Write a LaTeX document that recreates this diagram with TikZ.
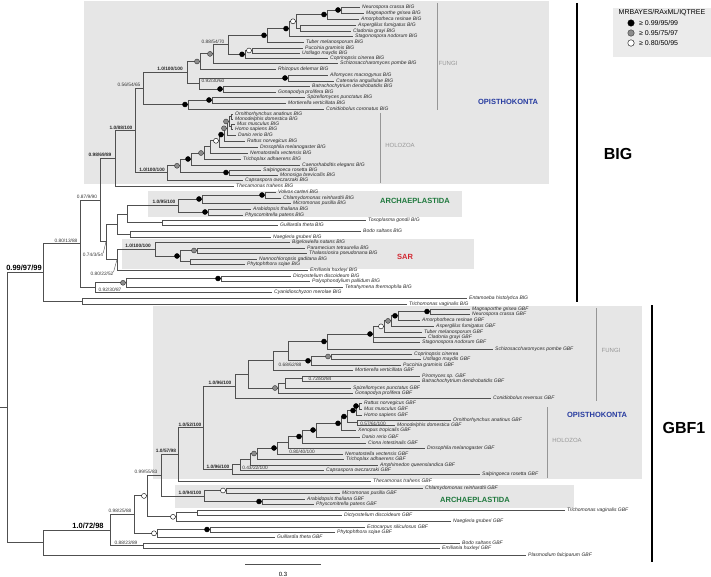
\documentclass[tikz,border=0pt]{standalone}
\usepackage{fontspec}
\setmainfont{Liberation Sans}
\usetikzlibrary{positioning}
\definecolor{opiblue}{RGB}{40,60,160}
\definecolor{archgreen}{RGB}{30,120,60}
\definecolor{sarred}{RGB}{210,40,50}
\definecolor{boxgrey}{RGB}{230,230,230}
\definecolor{treegrey}{RGB}{80,80,80}
\definecolor{cladegrey}{RGB}{150,150,150}

\begin{document}
\begin{tikzpicture}[x=1pt,y=-1pt]
  \tikzstyle{br}=[draw=treegrey,line width=0.9pt]
  \tikzstyle{leaf}=[anchor=west,inner xsep=2pt,inner ysep=0pt,font=\fontsize{5}{6}\selectfont\itshape,text=black!85]
  \tikzstyle{sup}=[inner sep=0pt,font=\fontsize{4.8}{5}\selectfont,text=black!80]
  \tikzstyle{supb}=[inner sep=0pt,font=\fontsize{4.8}{5}\selectfont\bfseries,text=black!85]
  \tikzstyle{supbig}=[inner sep=0pt,font=\fontsize{7.5}{8}\selectfont\bfseries]
  \tikzstyle{bb}=[circle,draw=black,fill=black,inner sep=0pt,minimum size=5pt]
  \tikzstyle{gb}=[circle,draw=black!80,fill=black!45,inner sep=0pt,minimum size=5pt]
  \tikzstyle{wb}=[circle,draw=black,fill=white,inner sep=0pt,minimum size=5pt]
  \tikzstyle{clade}=[inner sep=0pt,font=\fontsize{7.5}{8}\selectfont\bfseries]
  \tikzstyle{sub}=[inner sep=0pt,font=\fontsize{6}{7}\selectfont,text=cladegrey]
  \tikzstyle{bracket}=[draw=cladegrey,line width=0.8pt]
  \tikzstyle{gene}=[inner sep=0pt,font=\fontsize{16}{18}\selectfont\bfseries]

  \useasboundingbox (0,0) rectangle (711,577);

  % -- Clade boxes --
  \fill[boxgrey] (84,1) rectangle (549,184);
  \fill[boxgrey] (148,191) rectangle (462,217);
  \fill[boxgrey] (122,239) rectangle (474,269);
  \fill[boxgrey] (153,306) rectangle (642,479);
  \fill[boxgrey] (175,485) rectangle (574,508);
  \fill[black!8] (613,8) rectangle (711,57);

  % -- BIG leaves --
  \node[leaf] (nc1) at (360,7) {Neurospora crassa BIG};
  \node[leaf] (mg1) at (364,13) {Magnaporthe grisea BIG};
  \node[leaf] (ar1) at (359,19) {Amorphotheca resinae BIG};
  \node[leaf] (af1) at (356,25) {Aspergillus fumigatus BIG};
  \node[leaf] (cg1) at (351,31) {Cladonia grayi BIG};
  \node[leaf] (sn1) at (353,36) {Stagonospora nodorum BIG};
  \node[leaf] (tm1) at (304,42) {Tuber melanosporum BIG};
  \node[leaf] (pg1) at (303,48) {Puccinia graminis BIG};
  \node[leaf] (um1) at (300,53) {Ustilago maydis BIG};
  \node[leaf] (cc1) at (328,58) {Coprinopsis cinerea BIG};
  \node[leaf] (sp1) at (338,63) {Schizosaccharomyces pombe BIG};
  \node[leaf] (rd1) at (276,69) {Rhizopus delemar BIG};
  \node[leaf] (am1) at (328,75) {Allomyces macrogynus BIG};
  \node[leaf] (ca1) at (334,81) {Catenaria anguillulae BIG};
  \node[leaf] (bd1) at (310,86) {Batrachochytrium dendrobatidis BIG};
  \node[leaf] (gp1) at (276,92) {Gonapodya prolifera BIG};
  \node[leaf] (spu1) at (305,97) {Spizellomyces punctatus BIG};
  \node[leaf] (mv1) at (286,103) {Mortierella verticillata BIG};
  \node[leaf] (co1) at (324,109) {Conidiobolus coronatus BIG};
  \node[leaf] (oa1) at (233,114) {Ornithorhynchus anatinus BIG};
  \node[leaf] (md1) at (233,119) {Monodelphis domestica BIG};
  \node[leaf] (mm1) at (235,124) {Mus musculus BIG};
  \node[leaf] (hs1) at (233,129) {Homo sapiens BIG};
  \node[leaf] (dr1) at (236,135) {Danio rerio BIG};
  \node[leaf] (rn1) at (245,141) {Rattus norvegicus BIG};
  \node[leaf] (dm1) at (258,147) {Drosophila melanogaster BIG};
  \node[leaf] (nv1) at (248,153) {Nematostella vectensis BIG};
  \node[leaf] (ta1) at (241,159) {Trichoplax adhaerens BIG};
  \node[leaf] (ce1) at (300,165) {Caenorhabditis elegans BIG};
  \node[leaf] (sr1) at (261,170) {Salpingoeca rosetta BIG};
  \node[leaf] (mb1) at (278,175) {Monosiga brevicollis BIG};
  \node[leaf] (cow1) at (243,180) {Capsaspora owczarzaki BIG};
  \node[leaf] (tt1) at (234,186) {Thecamonas trahens BIG};
  \node[leaf] (vc1) at (276,192) {Volvox carteri BIG};
  \node[leaf] (cr1) at (281,198) {Chlamydomonas reinhardtii BIG};
  \node[leaf] (mp1) at (291,203) {Micromonas pusilla BIG};
  \node[leaf] (at1) at (251,209) {Arabidopsis thaliana BIG};
  \node[leaf] (pp1) at (243,215) {Physcomitrella patens BIG};
  \node[leaf] (tg1) at (366,220) {Toxoplasma gondii BIG};
  \node[leaf] (gt1) at (278,225) {Guillardia theta BIG};
  \node[leaf] (bs1) at (361,231) {Bodo saltans BIG};
  \node[leaf] (ng1) at (271,237) {Naegleria gruberi BIG};
  \node[leaf] (bn1) at (290,242) {Bigelowiella natans BIG};
  \node[leaf] (pt1) at (305,248) {Paramecium tetraurelia BIG};
  \node[leaf] (tp1) at (307,253) {Thalassiosira pseudonana BIG};
  \node[leaf] (ngd1) at (257,259) {Nannochloropsis gaditana BIG};
  \node[leaf] (ps1) at (245,264) {Phytophthora sojae BIG};
  \node[leaf] (eh1) at (308,270) {Emiliania huxleyi BIG};
  \node[leaf] (dd1) at (291,276) {Dictyostelium discoideum BIG};
  \node[leaf] (ppa1) at (310,281) {Polysphondylium pallidum BIG};
  \node[leaf] (tth1) at (343,287) {Tetrahymena thermophila BIG};
  \node[leaf] (cm1) at (272,292) {Cyanidioschyzon merolae BIG};
  \node[leaf] (ehi1) at (467,298) {Entamoeba histolytica BIG};
  \node[leaf] (tv1) at (407,304) {Trichomonas vaginalis BIG};

  % -- GBF1 leaves --
  \node[leaf] (mgg) at (470,309) {Magnaporthe grisea GBF};
  \node[leaf] (ncg) at (470,314) {Neurospora crassa GBF};
  \node[leaf] (arg) at (420,320) {Amorphotheca resinae GBF};
  \node[leaf] (afg) at (434,326) {Aspergillus fumigatus GBF};
  \node[leaf] (tmg) at (422,332) {Tuber melanosporum GBF};
  \node[leaf] (cgg) at (426,337) {Cladonia grayi GBF};
  \node[leaf] (sng) at (420,342) {Stagonospora nodorum GBF};
  \node[leaf] (spg) at (493,349) {Schizosaccharomyces pombe GBF};
  \node[leaf] (ccg) at (412,354) {Coprinopsis cinerea};
  \node[leaf] (umg) at (421,359) {Ustilago maydis GBF};
  \node[leaf] (pgg) at (401,365) {Puccinia graminis GBF};
  \node[leaf] (mvg) at (353,370) {Mortierella verticillata GBF};
  \node[leaf] (psg) at (420,376) {Piromyces sp. GBF};
  \node[leaf] (bdg) at (420,381) {Batrachochytrium dendrobatidis GBF};
  \node[leaf] (spug) at (351,388) {Spizellomyces punctatus GBF};
  \node[leaf] (gpg) at (353,393) {Gonapodya prolifera GBF};
  \node[leaf] (crg) at (491,398) {Conidiobolus reversus GBF};
  \node[leaf] (rng) at (362,403) {Rattus norvegicus GBF};
  \node[leaf] (mmg) at (362,409) {Mus musculus GBF};
  \node[leaf] (hsg) at (362,415) {Homo sapiens GBF};
  \node[leaf] (oag) at (451,420) {Ornithorhynchus anatinus GBF};
  \node[leaf] (mdg) at (395,425) {Monodelphis domestica GBF};
  \node[leaf] (xtg) at (356,430) {Xenopus tropicalis GBF};
  \node[leaf] (drg) at (360,437) {Danio rerio GBF};
  \node[leaf] (cig) at (366,443) {Ciona intestinalis GBF};
  \node[leaf] (dmg) at (425,448) {Drosophila melanogaster GBF};
  \node[leaf] (nvg) at (343,454) {Nematostella vectensis GBF};
  \node[leaf] (tag) at (344,459) {Trichoplax adhaerens GBF};
  \node[leaf] (aqg) at (378,465) {Amphimedon queenslandica GBF};
  \node[leaf] (cowg) at (324,470) {Capsaspora owczarzaki GBF};
  \node[leaf] (srg) at (480,474) {Salpingoeca rosetta GBF};
  \node[leaf] (ttg) at (371,481) {Thecamonas trahens GBF};
  \node[leaf] (crhg) at (423,488) {Chlamydomonas reinhardtii GBF};
  \node[leaf] (mpg) at (340,493) {Micromonas pusilla GBF};
  \node[leaf] (atg) at (305,499) {Arabidopsis thaliana GBF};
  \node[leaf] (ppg) at (314,504) {Physcomitrella patens GBF};
  \node[leaf] (tvg) at (565,510) {Trichomonas vaginalis GBF};
  \node[leaf] (ddg) at (342,515) {Dictyostelium discoideum GBF};
  \node[leaf] (ngg) at (451,521) {Naegleria gruberi GBF};
  \node[leaf] (esg) at (365,527) {Ectocarpus siliculosus GBF};
  \node[leaf] (psjg) at (335,532) {Phytophthora sojae GBF};
  \node[leaf] (gtg) at (275,537) {Guillardia theta GBF};
  \node[leaf] (bsg) at (460,543) {Bodo saltans GBF};
  \node[leaf] (ehg) at (440,548) {Emiliania huxleyi GBF};
  \node[leaf] (pfg) at (526,555) {Plasmodium falciparum GBF};

  % -- BIG internal nodes --
  \coordinate (b1) at (341,10);
  \coordinate (b2) at (327,14.5);
  \coordinate (b3) at (300,28);
  \coordinate (b4) at (296,21.3);
  \coordinate (b5) at (289,28.6);
  \coordinate (b6) at (267,35.3);
  \coordinate (b7) at (252,50.5);
  \coordinate (b8) at (245,54.3);
  \coordinate (b9) at (228,44.8);
  \coordinate (b10) at (213,53.9);
  \coordinate (b11) at (200,61.5);
  \coordinate (b12) at (288,78);
  \coordinate (b13) at (223,89);
  \coordinate (b14) at (199,83.5);
  \coordinate (b15) at (187,72.5);
  \coordinate (b16) at (212,100);
  \coordinate (b17) at (188,104.5);
  \coordinate (FB) at (143,88.5);
  \coordinate (v1) at (231,116.5);
  \coordinate (v2) at (231,126.5);
  \coordinate (v3) at (229,121.5);
  \coordinate (v4) at (227,128.3);
  \coordinate (v5) at (224,134.6);
  \coordinate (v6) at (219,140.8);
  \coordinate (v7) at (210,146.9);
  \coordinate (v8) at (204,153);
  \coordinate (v9) at (191,159);
  \coordinate (v10) at (229,172.5);
  \coordinate (v11) at (180,165.8);
  \coordinate (HB) at (167,172.9);
  \coordinate (OB) at (135,130.7);
  \coordinate (A) at (115,158.3);
  \coordinate (a1) at (265,195);
  \coordinate (a2) at (202,199);
  \coordinate (a3) at (208,212);
  \coordinate (AB) at (178,205.5);
  \coordinate (t1) at (162,222.5);
  \coordinate (ne1) at (127,214);
  \coordinate (ne2) at (130,234);
  \coordinate (ne) at (117,224);
  \coordinate (s1) at (197,250.5);
  \coordinate (s2) at (190,261.5);
  \coordinate (s3) at (180,256);
  \coordinate (SB) at (155,249);
  \coordinate (nf) at (117,259.5);
  \coordinate (nd) at (106,241.8);
  \coordinate (nb) at (100,200);
  \coordinate (dp) at (221,278.5);
  \coordinate (dpt) at (126,282.8);
  \coordinate (nc) at (95,287.4);
  \coordinate (na) at (80,243.7);
  \coordinate (et) at (82,301);
  \coordinate (BR) at (43,272.3);
  \coordinate (root) at (7,407);
  \coordinate (stub) at (0,407);

  % -- GBF1 internal nodes --
  \coordinate (f1) at (430,311.5);
  \coordinate (f2) at (398,315.8);
  \coordinate (f3) at (391,320.9);
  \coordinate (f4) at (384,326.4);
  \coordinate (f5) at (373,334);
  \coordinate (f6) at (327,341.5);
  \coordinate (f7) at (331,356.5);
  \coordinate (f8) at (311,360.8);
  \coordinate (f9) at (288,351);
  \coordinate (f10) at (273,360.5);
  \coordinate (f11) at (302,378.5);
  \coordinate (f12) at (285,383.3);
  \coordinate (f13) at (278,388);
  \coordinate (f14) at (248,374.3);
  \coordinate (fG) at (235,386);
  \coordinate (m1) at (359,406);
  \coordinate (m2) at (356,410.5);
  \coordinate (m3) at (357,422.5);
  \coordinate (m4) at (347,416.5);
  \coordinate (m5) at (341,423.3);
  \coordinate (m6) at (316,430);
  \coordinate (m7) at (302,436.5);
  \coordinate (m8) at (288,442.3);
  \coordinate (m9) at (277,448);
  \coordinate (m10) at (257,453.5);
  \coordinate (m11) at (250,459);
  \coordinate (m12) at (240,464.5);
  \coordinate (hG) at (232,469);
  \coordinate (aw) at (226,490.5);
  \coordinate (ab) at (262,501.5);
  \coordinate (ArchG) at (204,496);
  \coordinate (g9) at (203,427.5);
  \coordinate (g8) at (178,454);
  \coordinate (g6) at (161,475);
  \coordinate (g7a) at (197,512.5);
  \coordinate (g7) at (176,516.8);
  \coordinate (g4) at (147,495.9);
  \coordinate (g5a) at (210,529.5);
  \coordinate (g5) at (157,533.3);
  \coordinate (g2) at (134,514.6);
  \coordinate (g3) at (143,545.5);
  \coordinate (g1) at (110,530);
  \coordinate (g0) at (43,542.5);

  % -- BIG branches --
  \draw[br] (b1) |- (nc1.west) (b1) |- (mg1.west);
  \draw[br] (b2) |- (b1) (b2) |- (ar1.west);
  \draw[br] (b3) |- (af1.west) (b3) |- (cg1.west);
  \draw[br] (b4) |- (b2) (b4) |- (b3);
  \draw[br] (b5) |- (b4) (b5) |- (sn1.west);
  \draw[br] (b6) |- (b5) (b6) |- (tm1.west);
  \draw[br] (b7) |- (pg1.west) (b7) |- (um1.west);
  \draw[br] (b8) |- (b7) (b8) |- (cc1.west);
  \draw[br] (b9) |- (b6) (b9) |- (b8);
  \draw[br] (b10) |- (b9) (b10) |- (sp1.west);
  \draw[br] (b11) |- (b10) (b11) |- (rd1.west);
  \draw[br] (b12) |- (am1.west) (b12) |- (ca1.west);
  \draw[br] (b13) |- (bd1.west) (b13) |- (gp1.west);
  \draw[br] (b14) |- (b12) (b14) |- (b13);
  \draw[br] (b15) |- (b11) (b15) |- (b14);
  \draw[br] (b16) |- (spu1.west) (b16) |- (mv1.west);
  \draw[br] (b17) |- (b16) (b17) |- (co1.west);
  \draw[br] (FB) |- (b15) (FB) |- (b17);
  \draw[br] (v1) |- (oa1.west) (v1) |- (md1.west);
  \draw[br] (v2) |- (mm1.west) (v2) |- (hs1.west);
  \draw[br] (v3) |- (v1) (v3) |- (v2);
  \draw[br] (v4) |- (v3) (v4) |- (dr1.west);
  \draw[br] (v5) |- (v4) (v5) |- (rn1.west);
  \draw[br] (v6) |- (v5) (v6) |- (dm1.west);
  \draw[br] (v7) |- (v6) (v7) |- (nv1.west);
  \draw[br] (v8) |- (v7) (v8) |- (ta1.west);
  \draw[br] (v9) |- (v8) (v9) |- (ce1.west);
  \draw[br] (v10) |- (sr1.west) (v10) |- (mb1.west);
  \draw[br] (v11) |- (v9) (v11) |- (v10);
  \draw[br] (HB) |- (v11) (HB) |- (cow1.west);
  \draw[br] (OB) |- (FB) (OB) |- (HB);
  \draw[br] (A) |- (OB) (A) |- (tt1.west);
  \draw[br] (a1) |- (vc1.west) (a1) |- (cr1.west);
  \draw[br] (a2) |- (a1) (a2) |- (mp1.west);
  \draw[br] (a3) |- (at1.west) (a3) |- (pp1.west);
  \draw[br] (AB) |- (a2) (AB) |- (a3);
  \draw[br] (t1) |- (tg1.west) (t1) |- (gt1.west);
  \draw[br] (ne1) |- (AB) (ne1) |- (t1);
  \draw[br] (ne2) |- (bs1.west) (ne2) |- (ng1.west);
  \draw[br] (ne) |- (ne1) (ne) |- (ne2);
  \draw[br] (s1) |- (pt1.west) (s1) |- (tp1.west);
  \draw[br] (s2) |- (ngd1.west) (s2) |- (ps1.west);
  \draw[br] (s3) |- (s1) (s3) |- (s2);
  \draw[br] (SB) |- (bn1.west) (SB) |- (s3);
  \draw[br] (nf) |- (SB) (nf) |- (eh1.west);
  \draw[br] (nd) |- (ne) (nd) |- (nf);
  \draw[br] (nb) |- (A) (nb) |- (nd);
  \draw[br] (dp) |- (dd1.west) (dp) |- (ppa1.west);
  \draw[br] (dpt) |- (dp) (dpt) |- (tth1.west);
  \draw[br] (nc) |- (dpt) (nc) |- (cm1.west);
  \draw[br] (na) |- (nb) (na) |- (nc);
  \draw[br] (et) |- (ehi1.west) (et) |- (tv1.west);
  \draw[br] (BR) |- (na) (BR) |- (et);
  \draw[br] (root) |- (BR) (root) |- (g0);
  \draw[br] (stub) -- (root);

  % -- GBF1 branches --
  \draw[br] (f1) |- (mgg.west) (f1) |- (ncg.west);
  \draw[br] (f2) |- (f1) (f2) |- (arg.west);
  \draw[br] (f3) |- (f2) (f3) |- (afg.west);
  \draw[br] (f4) |- (f3) (f4) |- (tmg.west);
  \draw[br] (f5) |- (f4) (f5) |- (cgg.west) (f5) |- (sng.west);
  \draw[br] (f6) |- (f5) (f6) |- (spg.west);
  \draw[br] (f7) |- (ccg.west) (f7) |- (umg.west);
  \draw[br] (f8) |- (f7) (f8) |- (pgg.west);
  \draw[br] (f9) |- (f6) (f9) |- (f8);
  \draw[br] (f10) |- (f9) (f10) |- (mvg.west);
  \draw[br] (f11) |- (psg.west) (f11) |- (bdg.west);
  \draw[br] (f12) |- (f11) (f12) |- (spug.west);
  \draw[br] (f13) |- (f12) (f13) |- (gpg.west);
  \draw[br] (f14) |- (f10) (f14) |- (f13);
  \draw[br] (fG) |- (f14) (fG) |- (crg.west);
  \draw[br] (m1) |- (rng.west) (m1) |- (mmg.west);
  \draw[br] (m2) |- (m1) (m2) |- (hsg.west);
  \draw[br] (m3) |- (oag.west) (m3) |- (mdg.west);
  \draw[br] (m4) |- (m2) (m4) |- (m3);
  \draw[br] (m5) |- (m4) (m5) |- (xtg.west);
  \draw[br] (m6) |- (m5) (m6) |- (drg.west);
  \draw[br] (m7) |- (m6) (m7) |- (cig.west);
  \draw[br] (m8) |- (m7) (m8) |- (dmg.west);
  \draw[br] (m9) |- (m8) (m9) |- (nvg.west);
  \draw[br] (m10) |- (m9) (m10) |- (tag.west);
  \draw[br] (m11) |- (m10) (m11) |- (aqg.west);
  \draw[br] (m12) |- (m11) (m12) |- (cowg.west);
  \draw[br] (hG) |- (m12) (hG) |- (srg.west);
  \draw[br] (aw) |- (crhg.west) (aw) |- (mpg.west);
  \draw[br] (ab) |- (atg.west) (ab) |- (ppg.west);
  \draw[br] (ArchG) |- (aw) (ArchG) |- (ab);
  \draw[br] (g9) |- (fG) (g9) |- (hG);
  \draw[br] (g8) |- (g9) (g8) |- (ttg.west);
  \draw[br] (g6) |- (g8) (g6) |- (ArchG);
  \draw[br] (g7a) |- (tvg.west) (g7a) |- (ddg.west);
  \draw[br] (g7) |- (g7a) (g7) |- (ngg.west);
  \draw[br] (g4) |- (g6) (g4) |- (g7);
  \draw[br] (g5a) |- (esg.west) (g5a) |- (psjg.west);
  \draw[br] (g5) |- (g5a) (g5) |- (gtg.west);
  \draw[br] (g2) |- (g4) (g2) |- (g5);
  \draw[br] (g3) |- (bsg.west) (g3) |- (ehg.west);
  \draw[br] (g1) |- (g2) (g1) |- (g3);
  \draw[br] (g0) |- (g1) (g0) |- (pfg.west);

  % -- Support circles --
  \foreach \n in {b1,b2,b5,b6,b8,b12,b13,b16,b17,v5,v9,v10,a1,a2,a3,s3,dp,
                  f1,f2,f5,f6,f8,m1,m2,m4,m5,m6,m7,m9,ab,g5a}
    \node[bb] (c-\n) at ([xshift=-3pt]\n) {};
  \foreach \n in {b10,b11,v3,v4,v8,v11,s1,dpt,f3,f7,f13,m10}
    \node[gb] (c-\n) at ([xshift=-3pt]\n) {};
  \foreach \n in {b4,b7,v6,f4,aw,g4,g5,g7}
    \node[wb] (c-\n) at ([xshift=-3pt]\n) {};

  % -- Support values --
  \node[sup] (l-b9) at (213,42) {0.88/54/70};
  \node[supb] (l-b15) at (170,69) {1.0/100/100};
  \node[sup] (l-b14) at (213,81) {0.92/30/60};
  \node[sup] (l-FB) at (129,85) {0.56/54/65};
  \node[supb] (l-OB) at (121,128) {1.0/88/100};
  \node[supb] (l-A) at (100,155) {0.98/69/89};
  \node[supb] (l-HB) at (152,170) {1.0/100/100};
  \node[supb] (l-AB) at (164,202) {1.0/95/100};
  \node[sup] (l-nb) at (87,197) {0.87/9/90};
  \node[sup] (l-na) at (66,241) {0.80/13/88};
  \node[sup] (l-nd) at (93,255) {0.74/3/54};
  \node[supb] (l-SB) at (138,246) {1.0/100/100};
  \node[sup] (l-nf) at (102,274) {0.80/22/52};
  \node[sup] (l-nc) at (110,290) {0.92/30/87};
  \node[supbig] (l-BR) at (24,268) {0.99/97/99};
  \draw[treegrey,line width=0.4pt] (l-nd.north east) -- (nd);
  \draw[treegrey,line width=0.4pt] (l-nf.north east) -- (nf);
  \node[supbig] (l-g1) at (88,526) {1.0/72/98};
  \node[sup] (l-g2) at (120,511) {0.98/25/88};
  \node[sup] (l-g3) at (126,543) {0.88/23/89};
  \node[sup] (l-g6) at (146,472) {0.99/55/83};
  \node[supb] (l-g8) at (166,451) {1.0/57/98};
  \node[supb] (l-g9) at (190,425) {1.0/52/100};
  \node[supb] (l-fG) at (220,383) {1.0/96/100};
  \node[supb] (l-hG) at (218,467) {1.0/96/100};
  \node[supb] (l-ArchG) at (190,493) {1.0/94/100};
  \node[sup] (l-f10) at (290,365) {0.68/62/88};
  \node[sup] (l-f12) at (320,379) {0.72/83/84};
  \node[sup] (l-m3) at (373,424) {0.57/61/100};
  \node[sup] (l-m8) at (302,452) {0.80/40/100};
  \node[sup] (l-m12) at (255,468) {0.43/22/100};

  % -- Clade labels --
  \draw[bracket] (437,3) -- (437,110);
  \draw[bracket] (380,113) -- (380,183);
  \draw[bracket] (596,308) -- (596,401);
  \draw[bracket] (547,407) -- (547,478);
  \node[sub] (fungi1) at (448,63) {FUNGI};
  \node[sub] (holo1) at (400,145) {HOLOZOA};
  \node[sub] (fungi2) at (611,350) {FUNGI};
  \node[sub] (holo2) at (567,440) {HOLOZOA};
  \node[clade,text=opiblue] (opi1) at (508,102) {OPISTHOKONTA};
  \node[clade,text=opiblue] (opi2) at (597,415) {OPISTHOKONTA};
  \node[clade,text=archgreen] (arch1) at (415,201) {ARCHAEPLASTIDA};
  \node[clade,text=archgreen] (arch2) at (475,500) {ARCHAEPLASTIDA};
  \node[clade,text=sarred] (sar) at (405,257) {SAR};

  % -- Gene families --
  \draw[black,line width=1.2pt] (577,3) -- (577,302);
  \draw[black,line width=1.2pt] (652,305) -- (652,562);
  \node[gene] (big) at (618,154) {BIG};
  \node[gene] (gbf) at (684,428) {GBF1};

  % -- Legend --
  \node[inner sep=0pt,font=\fontsize{7}{8}\selectfont] (lgt) at (662,13) {MRBAYES/RAxML/IQTREE};
  \node[bb,minimum size=6.5pt] (lg1) at (631,23) {};
  \node[gb,minimum size=6.5pt] (lg2) at (631,33) {};
  \node[wb,minimum size=6.5pt] (lg3) at (631,43) {};
  \node[anchor=west,inner sep=0pt,font=\fontsize{7}{8}\selectfont] at (639,23) {≥ 0.99/95/99};
  \node[anchor=west,inner sep=0pt,font=\fontsize{7}{8}\selectfont] at (639,33) {≥ 0.95/75/97};
  \node[anchor=west,inner sep=0pt,font=\fontsize{7}{8}\selectfont] at (639,43) {≥ 0.80/50/95};

  % -- Scale bar --
  \coordinate (sc1) at (245,564);
  \coordinate (sc2) at (321,564);
  \draw[treegrey,line width=0.8pt] (sc1) -- (sc2);
  \node[inner sep=0pt,font=\fontsize{6}{7}\selectfont] (sclab) at (283,574) {0.3};
\end{tikzpicture}
\end{document}
